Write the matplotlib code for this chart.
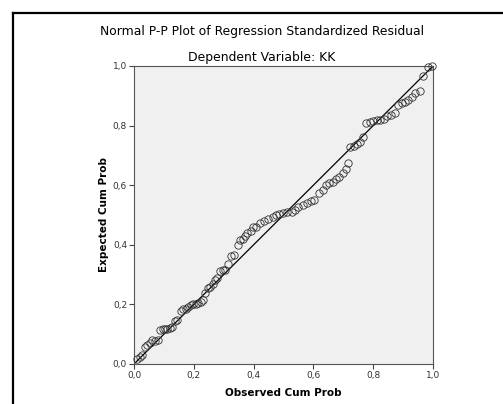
import matplotlib
matplotlib.use("Agg")
import matplotlib.pyplot as plt
from matplotlib.lines import Line2D

# observed vs expected cumulative probabilities
obs_cum = [
    0.011, 0.020, 0.028, 0.037, 0.045, 0.054, 0.061, 0.070, 0.079, 0.087,
    0.096, 0.104, 0.111, 0.120, 0.128, 0.137, 0.145, 0.156, 0.165, 0.174,
    0.182, 0.190, 0.198, 0.207, 0.215, 0.223, 0.230, 0.237, 0.246, 0.254,
    0.263, 0.271, 0.279, 0.288, 0.297, 0.304, 0.315, 0.324, 0.334, 0.347,
    0.355, 0.364, 0.372, 0.379, 0.390, 0.399, 0.407, 0.421, 0.435, 0.449,
    0.464, 0.475, 0.486, 0.499, 0.513, 0.527, 0.538, 0.550, 0.564, 0.578,
    0.591, 0.602, 0.620, 0.631, 0.642, 0.653, 0.665, 0.676, 0.687, 0.698,
    0.709, 0.717, 0.722, 0.736, 0.747, 0.756, 0.767, 0.776, 0.789, 0.800,
    0.812, 0.823, 0.836, 0.847, 0.859, 0.873, 0.884, 0.895, 0.906, 0.917,
    0.929, 0.940, 0.957, 0.965, 0.984, 0.996,
]
exp_cum = [
    0.016, 0.022, 0.030, 0.058, 0.064, 0.071, 0.080, 0.078, 0.080, 0.114,
    0.117, 0.117, 0.119, 0.121, 0.123, 0.143, 0.147, 0.179, 0.184, 0.186,
    0.190, 0.198, 0.200, 0.201, 0.206, 0.208, 0.215, 0.239, 0.254, 0.259,
    0.268, 0.282, 0.288, 0.312, 0.315, 0.317, 0.337, 0.364, 0.367, 0.398,
    0.416, 0.420, 0.430, 0.439, 0.445, 0.459, 0.461, 0.474, 0.481, 0.486,
    0.494, 0.500, 0.503, 0.508, 0.511, 0.511, 0.517, 0.528, 0.534, 0.541,
    0.548, 0.550, 0.575, 0.584, 0.601, 0.606, 0.612, 0.620, 0.629, 0.640,
    0.653, 0.673, 0.727, 0.732, 0.738, 0.746, 0.763, 0.808, 0.813, 0.816,
    0.819, 0.819, 0.821, 0.832, 0.836, 0.841, 0.869, 0.875, 0.880, 0.886,
    0.897, 0.908, 0.917, 0.967, 0.996, 1.000,
]
tick_vals = [0.0, 0.2, 0.4, 0.6, 0.8, 1.0]
tick_labels = ["0,0", "0,2", "0,4", "0,6", "0,8", "1,0"]

W, H = 503, 404
fig = plt.figure(figsize=(W / 100, H / 100), dpi=100)
fig.patch.set_facecolor("white")

# outer frame (only top and left edges fall inside the picture)
fig.add_artist(Line2D([13 / W, 1.0], [1 - 12.5 / H] * 2, color="black",
                      linewidth=1.6, transform=fig.transFigure))
fig.add_artist(Line2D([13 / W] * 2, [0.0, 1 - 12.5 / H], color="black",
                      linewidth=1.6, transform=fig.transFigure))

ax = fig.add_axes([134 / W, 1 - 364 / H, 299 / W, 298 / H])
ax.set_facecolor("#f0f0f0")

ax.plot([0, 1], [0, 1], color="black", linewidth=0.9, zorder=2)
ax.plot(obs_cum, exp_cum, linestyle="none", marker="o", markersize=5.3,
        markerfacecolor="none", markeredgecolor="#333333",
        markeredgewidth=0.6, zorder=3, clip_on=False)

ax.set_xlim(0, 1)
ax.set_ylim(0, 1)
ax.set_xticks(tick_vals)
ax.set_xticklabels(tick_labels)
ax.set_yticks(tick_vals)
ax.set_yticklabels(tick_labels)
ax.tick_params(direction="out", length=3.5, width=0.8, color="#444444",
               labelsize=6.5, labelcolor="#333333", pad=1.5)
for sp in ax.spines.values():
    sp.set_color("#555555")
    sp.set_linewidth(0.8)

ax.set_xlabel("Observed Cum Prob", fontsize=7.5, fontweight="bold",
              labelpad=6)
ax.set_ylabel("Expected Cum Prob", fontsize=7.5, fontweight="bold",
              labelpad=3)

fig.text(262 / W, 1 - 32 / H,
         "Normal P-P Plot of Regression Standardized Residual",
         ha="center", va="center", fontsize=8.9)
fig.text(262 / W, 1 - 57 / H, "Dependent Variable: KK",
         ha="center", va="center", fontsize=8.9)

fig.savefig("out.png", dpi=100)
